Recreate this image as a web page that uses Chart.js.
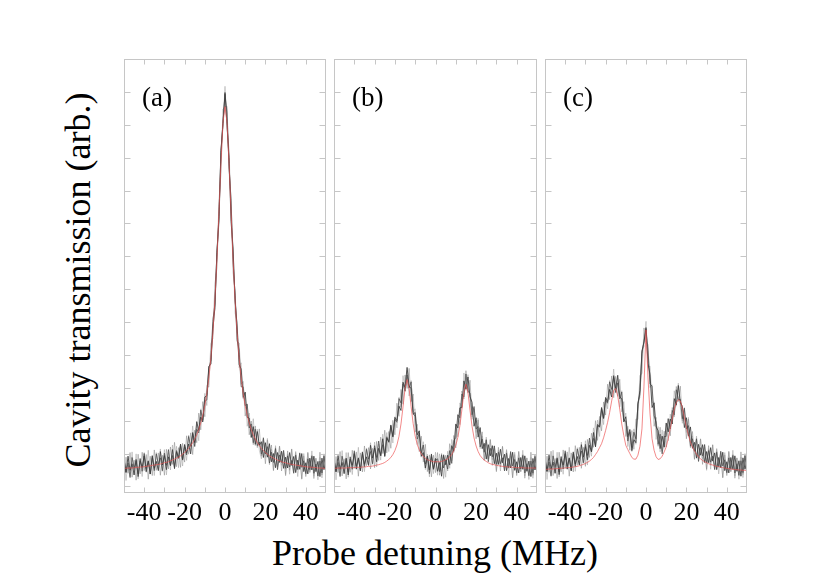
<!DOCTYPE html>
<html>
<head>
<meta charset="utf-8">
<script src="https://cdn.jsdelivr.net/npm/chart.js@4.4.1/dist/chart.umd.min.js"></script>
<style>
  html, body { margin: 0; padding: 0; background: #fff; }
  body { width: 830px; height: 581px; position: relative; overflow: hidden; font-family: 'Liberation Serif', serif; }
  canvas { position: absolute; }
  .label { position: absolute; white-space: nowrap; color: #000; }
  #ytitle { left: -122px; top: 259px; width: 400px; height: 42px; line-height: 42px; font-size: 36px; text-align: center; transform: rotate(-90deg); }
  #xtitle { left: 235px; top: 532px; width: 400px; line-height: 42px; font-size: 36px; text-align: center; }
  .panel-tag { font-size: 27px; line-height: 27px; top: 84px; }
</style>
</head>
<body>
<div id="ytitle" class="label">Cavity transmission (arb.)</div>
<div id="xtitle" class="label">Probe detuning (MHz)</div>

<script>
// Probe detuning grid (MHz)
const detuning = [
  -50,-49,-48,-47,-46,-45,-44,-43,-42,-41,-40,-39,-38,-37,-36,-35,-34,-33,-32,-31,
  -30,-29,-28,-27,-26,-25,-24,-23,-22,-21,-20,-19,-18,-17,-16,-15,-14,-13,-12,-11,
  -10,-9,-8,-7,-6,-5,-4,-3,-2,-1,0,1,2,3,4,5,6,7,8,9,
  10,11,12,13,14,15,16,17,18,19,20,21,22,23,24,25,26,27,28,29,
  30,31,32,33,34,35,36,37,38,39,40,41,42,43,44,45,46,47,48,49,50
];

// Ticks
const xTickMarks = [-40, -30, -20, -10, 0, 10, 20, 30, 40];
const xTickLabels = [-40, -20, 0, 20, 40];
const yTickMarks = [0, 1, 2, 3, 4, 5, 6, 7, 8, 9, 10, 11, 12];

// (a) empty cavity - measured trace (centre of the noisy band) and fit
const aData = [
  0.6,0.6,0.61,0.61,0.61,0.62,0.63,0.63,0.64,0.64,
  0.65,0.66,0.67,0.68,0.69,0.7,0.71,0.72,0.73,0.75,
  0.77,0.79,0.81,0.83,0.86,0.89,0.92,0.95,0.99,1.04,
  1.09,1.15,1.22,1.3,1.39,1.5,1.63,1.79,1.99,2.22,
  2.52,2.89,3.36,3.96,4.73,5.72,6.95,8.4,9.9,11.15,
  11.75,
  11.15,9.9,8.4,6.95,5.72,4.73,3.96,3.36,2.89,2.52,
  2.22,1.99,1.79,1.63,1.5,1.39,1.3,1.22,1.15,1.09,
  1.04,0.99,0.95,0.92,0.89,0.86,0.83,0.81,0.79,0.77,
  0.75,0.73,0.72,0.71,0.7,0.69,0.68,0.67,0.66,0.65,
  0.64,0.64,0.63,0.63,0.62,0.61,0.61,0.61,0.6,0.6
];
const aFit = [
  0.55,0.55,0.56,0.56,0.56,0.57,0.58,0.58,0.59,0.59,
  0.6,0.61,0.62,0.63,0.64,0.65,0.66,0.67,0.68,0.7,
  0.72,0.73,0.75,0.78,0.8,0.83,0.86,0.89,0.93,0.98,
  1.03,1.09,1.16,1.24,1.33,1.44,1.57,1.73,1.93,2.16,
  2.46,2.83,3.3,3.9,4.67,5.66,6.89,8.34,9.85,11.07,
  11.55,
  11.07,9.85,8.34,6.89,5.66,4.67,3.9,3.3,2.83,2.46,
  2.16,1.93,1.73,1.57,1.44,1.33,1.24,1.16,1.09,1.03,
  0.98,0.93,0.89,0.86,0.83,0.8,0.78,0.75,0.73,0.72,
  0.7,0.68,0.67,0.66,0.65,0.64,0.63,0.62,0.61,0.6,
  0.59,0.59,0.58,0.58,0.57,0.56,0.56,0.56,0.55,0.55
];

// (b) vacuum Rabi doublet
const bData = [
  0.6,0.62,0.63,0.64,0.65,0.66,0.67,0.68,0.69,0.7,
  0.72,0.74,0.76,0.78,0.8,0.82,0.85,0.88,0.92,0.96,
  1.0,1.03,1.07,1.13,1.19,1.26,1.34,1.44,1.57,1.74,
  1.92,2.14,2.37,2.62,2.92,3.18,3.28,3.15,2.85,2.45,
  2.05,1.7,1.4,1.15,0.97,0.85,0.76,0.7,0.66,0.63,
  0.62,
  0.62,0.63,0.65,0.68,0.73,0.8,0.9,1.03,1.25,1.55,
  1.9,2.3,2.7,3.02,3.18,3.05,2.78,2.42,2.1,1.85,
  1.65,1.48,1.35,1.23,1.15,1.1,1.03,0.98,0.93,0.89,
  0.86,0.83,0.8,0.78,0.76,0.74,0.72,0.71,0.7,0.68,
  0.67,0.66,0.65,0.64,0.63,0.62,0.61,0.6,0.59,0.58
];
const bFit = [
  0.55,0.55,0.56,0.56,0.56,0.56,0.56,0.57,0.57,0.57,
  0.57,0.58,0.58,0.58,0.59,0.59,0.6,0.61,0.61,0.62,
  0.63,0.65,0.66,0.68,0.7,0.73,0.77,0.82,0.88,0.97,
  1.09,1.26,1.52,1.9,2.42,2.98,3.25,2.98,2.42,1.91,
  1.53,1.28,1.11,0.99,0.91,0.86,0.81,0.79,0.77,0.75,
  0.75,
  0.75,0.75,0.76,0.78,0.81,0.84,0.9,0.97,1.09,1.25,
  1.49,1.84,2.33,2.86,3.11,2.85,2.32,1.83,1.47,1.23,
  1.06,0.94,0.86,0.8,0.76,0.72,0.69,0.67,0.66,0.64,
  0.63,0.62,0.61,0.6,0.6,0.59,0.59,0.58,0.58,0.57,
  0.57,0.57,0.57,0.56,0.56,0.56,0.56,0.56,0.56,0.56
];

// (c) triplet with central transparency peak
const cData = [
  0.62,0.63,0.64,0.65,0.66,0.67,0.68,0.69,0.7,0.71,
  0.72,0.74,0.76,0.78,0.8,0.83,0.86,0.89,0.94,0.99,
  1.04,1.09,1.16,1.25,1.38,1.55,1.72,1.9,2.1,2.3,
  2.52,2.72,2.88,3.03,3.12,3.14,3.04,2.82,2.54,2.22,
  1.92,1.64,1.44,1.32,1.36,1.62,2.35,3.12,3.8,4.5,
  4.6,
  3.9,3.3,2.74,2.27,1.88,1.55,1.4,1.32,1.38,1.58,
  1.78,1.96,2.2,2.48,2.7,2.79,2.6,2.3,2.06,1.85,
  1.68,1.5,1.36,1.26,1.18,1.11,1.05,1.01,0.97,0.94,
  0.91,0.88,0.85,0.82,0.79,0.77,0.73,0.71,0.69,0.68,
  0.67,0.66,0.65,0.64,0.63,0.63,0.62,0.62,0.61,0.6
];
const cFit = [
  0.52,0.52,0.53,0.53,0.53,0.54,0.54,0.55,0.55,0.56,
  0.56,0.57,0.57,0.58,0.59,0.6,0.61,0.63,0.65,0.67,
  0.7,0.73,0.77,0.82,0.88,0.97,1.06,1.18,1.3,1.48,
  1.7,1.95,2.25,2.6,2.92,2.98,2.75,2.35,1.9,1.55,
  1.25,1.12,1.0,0.88,0.83,0.83,0.95,1.22,1.75,3.05,
  4.76,
  3.3,2.2,1.45,1.1,0.9,0.82,0.84,0.92,1.05,1.2,
  1.45,1.75,2.05,2.35,2.55,2.64,2.6,2.4,2.1,1.8,
  1.55,1.35,1.2,1.08,0.98,0.9,0.84,0.79,0.75,0.72,
  0.69,0.67,0.65,0.63,0.61,0.6,0.58,0.57,0.56,0.55,
  0.54,0.53,0.52,0.51,0.51,0.5,0.5,0.49,0.49,0.48
];

// Detector noise (core and outer fringe)
const noiseCore = [
  0.22,-0.18,0.31,-0.12,0.08,-0.27,0.19,-0.33,0.14,-0.06,
  0.28,-0.21,0.11,-0.3,0.24,-0.15,0.05,-0.24,0.33,-0.1,
  0.17,-0.28,0.09,-0.19,0.26,-0.35,0.13,-0.08,0.3,-0.22,
  0.18,-0.14,0.07,-0.31,0.25,-0.17,0.34,-0.09,0.12,-0.26,
  0.2,-0.13,0.29,-0.23,0.06,-0.29,0.16,-0.2,0.32,-0.11,
  0.23,-0.16,0.1,-0.34,0.27,-0.07,0.15,-0.25,0.21,-0.18,
  0.35,-0.12,0.09,-0.3,0.19,-0.22,0.28,-0.05,0.14,-0.27,
  0.24,-0.15,0.31,-0.2,0.08,-0.32,0.17,-0.1,0.26,-0.24,
  0.12,-0.19,0.3,-0.08,0.2,-0.28,0.11,-0.16,0.33,-0.21,
  0.07,-0.26,0.22,-0.13,0.29,-0.17,0.15,-0.31,0.25,-0.09,
  0.18
];
const noiseFringe = [
  -0.38,0.29,-0.21,0.42,-0.33,0.18,-0.44,0.35,-0.26,0.4,
  -0.17,0.31,-0.45,0.24,-0.36,0.41,-0.22,0.3,-0.39,0.2,
  -0.43,0.34,-0.28,0.37,-0.19,0.45,-0.32,0.23,-0.41,0.27,
  -0.35,0.39,-0.24,0.33,-0.42,0.21,-0.3,0.44,-0.27,0.36,
  -0.4,0.19,-0.34,0.38,-0.23,0.43,-0.31,0.26,-0.37,0.32,
  -0.2,0.41,-0.29,0.35,-0.44,0.22,-0.33,0.4,-0.25,0.3,
  -0.38,0.28,-0.42,0.2,-0.36,0.34,-0.21,0.45,-0.3,0.25,
  -0.4,0.37,-0.18,0.31,-0.43,0.29,-0.26,0.39,-0.34,0.22,
  -0.41,0.33,-0.24,0.42,-0.28,0.36,-0.19,0.3,-0.45,0.27,
  -0.35,0.4,-0.22,0.32,-0.39,0.24,-0.3,0.43,-0.26,0.35,
  -0.2
];

// Panel layout (page pixels)
const panels = [
  { tag: '(a)', left: 124, width: 202, data: aData, fit: aFit },
  { tag: '(b)', left: 334, width: 203, data: bData, fit: bFit },
  { tag: '(c)', left: 545, width: 202, data: cData, fit: cFit }
];
const panelTop = 59;
const panelHeight = 434;
const padSide = 30;
const padTop = 10;
const axisHeight = 40;

// Frame and inward tick marks on all four sides
const framePlugin = {
  id: 'frame',
  afterDraw(chart) {
    const { ctx, chartArea, scales } = chart;
    const l = Math.round(chartArea.left) + 0.5;
    const r = Math.round(chartArea.right) - 0.5;
    const t = Math.round(chartArea.top) + 0.5;
    const b = Math.round(chartArea.bottom) - 0.5;
    ctx.save();
    ctx.strokeStyle = '#c6c6c6';
    ctx.lineWidth = 1;
    ctx.strokeRect(l, t, r - l, b - t);
    ctx.beginPath();
    xTickMarks.forEach(v => {
      const px = Math.round(scales.x.getPixelForValue(v)) + 0.5;
      ctx.moveTo(px, b); ctx.lineTo(px, b - 5);
      ctx.moveTo(px, t); ctx.lineTo(px, t + 5);
    });
    yTickMarks.forEach(v => {
      const py = Math.round(scales.y.getPixelForValue(v)) + 0.5;
      ctx.moveTo(l, py); ctx.lineTo(l + 6, py);
      ctx.moveTo(r, py); ctx.lineTo(r - 6, py);
    });
    ctx.stroke();
    ctx.restore();
  }
};

// trace point i = band centre + noise sample (noise list read cyclically from a start index)
function makePoints(values, offsets, start) {
  return detuning.map((x, i) => ({
    x: x,
    y: values[i] + (offsets ? offsets[(i + start) % offsets.length] : 0)
  }));
}

function traceSet(values, offsets, start, color, width, order) {
  return { data: makePoints(values, offsets, start), borderColor: color, borderWidth: width, order: order };
}

panels.forEach(p => {
  const canvas = document.createElement('canvas');
  canvas.width = p.width + padSide * 2;
  canvas.height = panelHeight + padTop + axisHeight;
  canvas.style.left = (p.left - padSide) + 'px';
  canvas.style.top = (panelTop - padTop) + 'px';
  document.body.appendChild(canvas);

  const tag = document.createElement('div');
  tag.className = 'label panel-tag';
  tag.textContent = p.tag;
  tag.style.left = (p.left + 18) + 'px';
  document.body.appendChild(tag);

  new Chart(canvas.getContext('2d'), {
    type: 'line',
    data: {
      datasets: [
        traceSet(p.fit, null, 0, 'rgba(235, 80, 80, 0.85)', 0.8, 0),
        traceSet(p.data, noiseCore, 0, 'rgba(60, 60, 60, 0.85)', 1, 1),
        traceSet(p.data, noiseCore, 50, 'rgba(75, 75, 75, 0.75)', 1, 2),
        traceSet(p.data, noiseFringe, 0, 'rgba(140, 140, 140, 0.55)', 1, 3),
        traceSet(p.data, noiseFringe, 33, 'rgba(160, 160, 160, 0.5)', 1, 4)
      ]
    },
    options: {
      responsive: false,
      animation: false,
      devicePixelRatio: 1,
      layout: { padding: { left: padSide, right: padSide, top: padTop, bottom: 0 } },
      plugins: { legend: { display: false }, tooltip: { enabled: false } },
      elements: { point: { radius: 0 }, line: { tension: 0 } },
      scales: {
        x: {
          type: 'linear',
          min: -50,
          max: 50,
          afterFit(scale) { scale.height = axisHeight; },
          grid: { display: false, drawTicks: false },
          border: { display: false },
          ticks: {
            stepSize: 10,
            autoSkip: false,
            maxRotation: 0,
            padding: 5,
            color: '#000',
            font: { family: 'Liberation Serif', size: 26 },
            callback: v => xTickLabels.includes(v) ? String(v) : ''
          }
        },
        y: { display: false, min: -0.2, max: 13 }
      }
    },
    plugins: [framePlugin]
  });
});
</script>
</body>
</html>
